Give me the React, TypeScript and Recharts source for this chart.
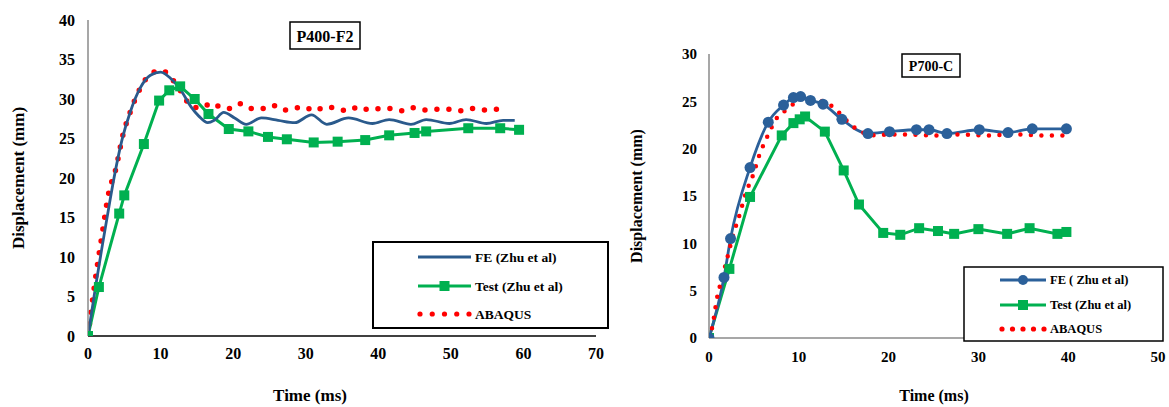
import React from 'react';
import { LineChart, Line, XAxis, YAxis } from 'recharts';

const SERIF = 'Liberation Serif, Times New Roman, Times, serif';

// ---------- P400-F2 (left) ----------
const p400Ticks = [0, 10, 20, 30, 40, 50, 60, 70];
const p400YTicks = [0, 5, 10, 15, 20, 25, 30, 35, 40];

const p400FeTime = [0, 0.5, 1, 2, 3, 3.5, 4.7, 5.8, 7.2, 8.6, 10.0, 11.4, 12.8, 14.2, 15.3, 16.5, 17.4, 18.7, 20.2, 21.8, 23.9, 26.2, 28.5, 30.8, 32.9, 35.9, 39.2, 41.5, 44.5, 46.6, 49.8, 52.1, 54.9, 57.2, 58.8];
const p400FeDisp = [0, 3.0, 6.0, 11.6, 17.0, 19.6, 24.9, 28.3, 31.4, 33.0, 33.4, 32.6, 31.1, 29.0, 27.8, 27.0, 27.3, 28.3, 27.6, 26.8, 27.6, 27.3, 27.0, 28.0, 26.8, 27.6, 26.9, 27.4, 26.8, 27.4, 26.9, 27.4, 26.9, 27.3, 27.3];

const p400TestTime = [0, 1.5, 4.3, 5.0, 7.7, 9.8, 11.2, 12.7, 14.7, 16.6, 19.4, 22.1, 24.8, 27.4, 31.1, 34.4, 38.2, 41.5, 45.0, 46.6, 52.4, 56.8, 59.4];
const p400TestDisp = [0, 6.2, 15.5, 17.8, 24.3, 29.8, 31.1, 31.6, 30.0, 28.1, 26.2, 25.9, 25.2, 24.9, 24.5, 24.6, 24.8, 25.4, 25.7, 25.9, 26.3, 26.3, 26.1];

const p400AbqTime = [0, 0.97, 1.9, 2.9, 3.8, 4.8, 5.8, 7.0, 7.8, 8.8, 10.2, 11.5, 12.5, 13.3, 14.3, 15.7, 17.0, 18.4, 19.7, 21.1, 22.6, 24.0, 25.4, 26.9, 28.3, 29.8, 31.2, 32.7, 34.3, 35.8, 37.3, 38.8, 40.4, 41.9, 43.5, 45.0, 46.6, 48.2, 49.7, 51.3, 52.9, 54.4, 56.1, 57.6];
const p400AbqDisp = [0, 6.9, 12.6, 18.3, 21.0, 25.4, 28.3, 31.0, 32.3, 33.3, 33.6, 32.6, 31.4, 30.2, 29.0, 28.9, 29.5, 28.9, 28.8, 29.4, 28.8, 28.8, 29.2, 28.6, 28.8, 29.0, 28.5, 29.0, 28.8, 28.5, 29.0, 28.6, 28.8, 28.8, 28.5, 28.9, 28.6, 28.7, 28.7, 28.5, 28.8, 28.6, 28.7, 28.8];

// ---------- P700-C (right) ----------
const p700Ticks = [0, 10, 20, 30, 40, 50];
const p700YTicks = [0, 5, 10, 15, 20, 25, 30];

const p700FeTime = [0, 1.67, 2.4, 4.57, 6.6, 8.3, 9.4, 10.2, 11.3, 12.7, 14.8, 17.7, 20.1, 23.1, 24.5, 26.5, 30.1, 33.3, 36.0, 39.8];
const p700FeDisp = [0, 6.4, 10.5, 18.0, 22.8, 24.6, 25.4, 25.5, 25.1, 24.7, 23.1, 21.6, 21.8, 22.0, 22.0, 21.6, 22.0, 21.7, 22.1, 22.1];

const p700TestTime = [0, 2.27, 4.57, 8.1, 9.4, 10.1, 10.7, 12.9, 15.0, 16.7, 19.4, 21.3, 23.4, 25.5, 27.3, 30.0, 33.2, 35.7, 38.8, 39.8];
const p700TestDisp = [0, 7.3, 14.9, 21.4, 22.7, 23.1, 23.4, 21.8, 17.7, 14.1, 11.1, 10.9, 11.6, 11.3, 11.0, 11.5, 11.0, 11.6, 11.0, 11.2];

const p700AbqTime = [0, 0.3, 0.93, 1.5, 2.1, 2.7, 3.4, 4.1, 4.9, 5.6, 6.5, 7.6, 8.6, 9.5, 10.4, 11.6, 12.7, 13.8, 14.7, 15.5, 16.4, 17.4, 18.6, 20, 22, 25, 28, 31, 34, 37, 40];
const p700AbqDisp = [0, 0.9, 4.4, 6.5, 8.7, 10.9, 13.0, 15.3, 17.2, 19.3, 21.3, 23.3, 24.1, 24.8, 25.3, 25.2, 25.0, 24.4, 23.6, 22.8, 22.1, 21.6, 21.4, 21.5, 21.5, 21.4, 21.5, 21.4, 21.5, 21.4, 21.4];

const legendLabelsLeft = ['FE (Zhu et al)', 'Test (Zhu et al)', 'ABAQUS'];
const legendLabelsRight = ['FE ( Zhu et al)', 'Test (Zhu et al)', 'ABAQUS'];

const zip = (t: number[], d: number[]) => t.map((x, i) => ({ t: x, d: d[i] }));

const BLUE_L = '#2A5A8C';
const BLUE_R = '#2B609A';
const GREEN = '#00B050';
const RED = '#FF0000';

const squareDot = (size: number) => (p: any) => {
  const { cx, cy, index } = p;
  if (cx == null || cy == null) return <g key={`s${index}`} />;
  return <rect key={`s${index}`} x={cx - size / 2} y={cy - size / 2} width={size} height={size} fill={GREEN} />;
};
const circleDot = (r: number) => (p: any) => {
  const { cx, cy, index } = p;
  if (cx == null || cy == null) return <g key={`c${index}`} />;
  return <circle key={`c${index}`} cx={cx} cy={cy} r={r} fill={BLUE_R} />;
};

const tickStyle = (size: number) => ({ fontFamily: SERIF, fontWeight: 700, fontSize: size, fill: '#000', style: { fontFamily: SERIF } });

const txt = (size: number) => ({ fontFamily: SERIF, fontWeight: 700, fontSize: size, fill: '#000', style: { fontFamily: SERIF } });

function LegendBox(props: { x: number; y: number; w: number; h: number; labels: string[]; rows: number[]; lx: number; lw: number; fs: number; blue: string; circle: boolean; sw: number }) {
  const { x, y, w, h, labels, rows, lx, lw, fs, blue, circle, sw } = props;
  const dots = [0, 1, 2, 3, 4];
  return (
    <g>
      <rect x={x} y={y} width={w} height={h} fill="#fff" stroke="#000" strokeWidth={sw} />
      <line x1={lx} x2={lx + lw} y1={rows[0]} y2={rows[0]} stroke={blue} strokeWidth={3} />
      {circle && <circle cx={lx + lw / 2} cy={rows[0]} r={5} fill={blue} />}
      <line x1={lx} x2={lx + lw} y1={rows[1]} y2={rows[1]} stroke={GREEN} strokeWidth={3} />
      <rect x={lx + lw / 2 - 5} y={rows[1] - 5} width={10} height={10} fill={GREEN} />
      {dots.map((i) => (
        <circle key={i} cx={lx + 2 + i * ((lw - 4) / 4)} cy={rows[2]} r={2.6} fill={RED} />
      ))}
      {labels.map((l, i) => (
        <text key={l} x={lx + lw + 4} y={rows[i]} dominantBaseline="central" {...txt(fs)}>
          {l}
        </text>
      ))}
    </g>
  );
}

export default function App() {
  const p400FE = zip(p400FeTime, p400FeDisp);
  const p400Test = zip(p400TestTime, p400TestDisp);
  const p400Abq = zip(p400AbqTime, p400AbqDisp);
  const p700FE = zip(p700FeTime, p700FeDisp);
  const p700Test = zip(p700TestTime, p700TestDisp);
  const p700Abq = zip(p700AbqTime, p700AbqDisp);

  return (
    <div style={{ position: 'absolute', left: 0, top: 0, width: 1169, height: 407, background: '#fff', overflow: 'hidden', fontFamily: SERIF }}>
      <div style={{ position: 'absolute', left: 0, top: 0 }}>
        <LineChart width={620} height={407} margin={{ top: 20, right: 24, bottom: 41, left: 48 }}>
          <XAxis dataKey="t" type="number" domain={[0, 70]} ticks={p400Ticks} allowDataOverflow
            axisLine={{ stroke: '#000', strokeWidth: 1.5 }} tickLine={false} tickSize={0} tickMargin={12} height={30} tick={tickStyle(16)} />
          <YAxis type="number" domain={[0, 40]} ticks={p400YTicks} allowDataOverflow
            axisLine={{ stroke: '#8a8a8a', strokeWidth: 1.5 }} tickLine={false} tickSize={0} tickMargin={13} width={40} tick={tickStyle(16)} />
          <Line data={p400Abq} dataKey="d" type="monotone" stroke={RED} strokeWidth={5.5} strokeDasharray="0 12" strokeLinecap="round" dot={false} isAnimationActive={false} />
          <Line data={p400Test} dataKey="d" type="linear" stroke={GREEN} strokeWidth={3} dot={squareDot(10)} isAnimationActive={false} />
          <Line data={p400FE} dataKey="d" type="monotone" stroke={BLUE_L} strokeWidth={2.8} dot={false} isAnimationActive={false} />
        </LineChart>
      </div>
      <div style={{ position: 'absolute', left: 620, top: 0 }}>
        <LineChart width={549} height={407} margin={{ top: 54, right: 11, bottom: 39, left: 49 }}>
          <XAxis dataKey="t" type="number" domain={[0, 50]} ticks={p700Ticks} allowDataOverflow
            axisLine={{ stroke: '#8a8a8a', strokeWidth: 1.5 }} tickLine={false} tickSize={0} tickMargin={13} height={30} tick={tickStyle(15)} />
          <YAxis type="number" domain={[0, 30]} ticks={p700YTicks} allowDataOverflow
            axisLine={{ stroke: '#8a8a8a', strokeWidth: 1.5 }} tickLine={false} tickSize={0} tickMargin={12} width={40} tick={tickStyle(15)} />
          <Line data={p700Test} dataKey="d" type="linear" stroke={GREEN} strokeWidth={3} dot={squareDot(10)} isAnimationActive={false} />
          <Line data={p700FE} dataKey="d" type="monotone" stroke={BLUE_R} strokeWidth={2.8} dot={circleDot(5.5)} isAnimationActive={false} />
          <Line data={p700Abq} dataKey="d" type="monotone" stroke={RED} strokeWidth={4.5} strokeDasharray="0 10.5" strokeLinecap="round" dot={false} isAnimationActive={false} />
        </LineChart>
      </div>
      <svg width={1169} height={407} style={{ position: 'absolute', left: 0, top: 0, pointerEvents: 'none' }}>
        <rect x={290} y={22} width={70} height={27} fill="#fff" stroke="#000" strokeWidth={1.5} />
        <text x={325} y={36} textAnchor="middle" dominantBaseline="central" {...txt(16)}>P400-F2</text>
        <rect x={902} y={54} width={58} height={23} fill="#fff" stroke="#000" strokeWidth={1.5} />
        <text x={931} y={66} textAnchor="middle" dominantBaseline="central" {...txt(14)}>P700-C</text>
        <text x={310} y={395} textAnchor="middle" dominantBaseline="central" {...txt(17)}>Time (ms)</text>
        <text x={18} y={178} transform="rotate(-90 18 178)" textAnchor="middle" dominantBaseline="central" {...txt(17)}>Displacement (mm)</text>
        <text x={934} y={395} textAnchor="middle" dominantBaseline="central" {...txt(16)}>Time (ms)</text>
        <text x={636} y={196} transform="rotate(-90 636 196)" textAnchor="middle" dominantBaseline="central" {...txt(16)}>Displacement (mm)</text>
        <LegendBox x={373} y={242} w={235} h={86} labels={legendLabelsLeft} rows={[257, 286, 314]} lx={418} lw={53} fs={13.5} blue={BLUE_L} circle={false} sw={2} />
        <LegendBox x={964} y={267} w={199} h={74} labels={legendLabelsRight} rows={[280, 305, 329]} lx={1000} lw={46} fs={12.5} blue={BLUE_R} circle={true} sw={1.5} />
      </svg>
    </div>
  );
}
